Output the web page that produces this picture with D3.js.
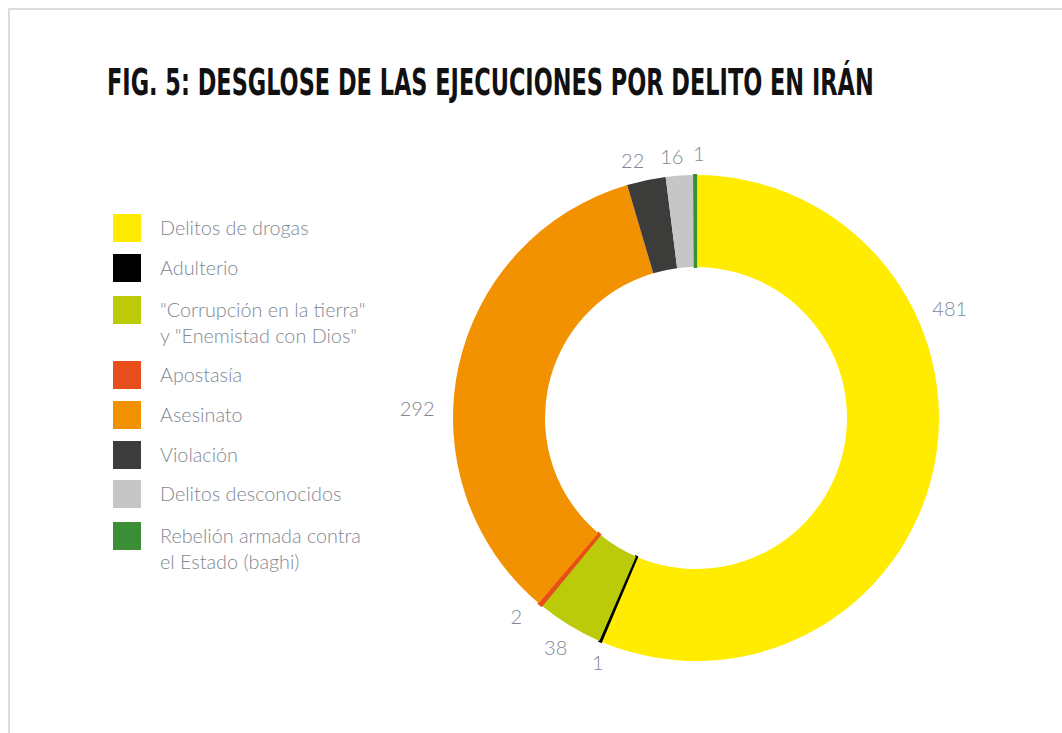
<!DOCTYPE html>
<html>
<head>
<meta charset="utf-8">
<script src="https://cdn.jsdelivr.net/npm/d3@7"></script>
<style>
  body { margin: 0; background: #fff; }
  svg { display: block; }
</style>
</head>
<body>
<svg id="chart" width="1062" height="733"></svg>
<script>
// Data
const categories = [
   'Delitos de drogas',
   'Adulterio',
   '"Corrupción en la tierra"\ny "Enemistad con Dios"',
   'Apostasía',
   'Asesinato',
   'Violación',
   'Delitos desconocidos',
   'Rebelión armada contra\nel Estado (baghi)'
];
const values = [481, 1, 38, 2, 292, 22, 16, 1];
const colors = ['#FFEC00', '#000000', '#BBCB0A', '#E84E1B', '#F39200', '#3C3C3B', '#C6C6C6', '#3A8E35'];

const title = 'FIG. 5: DESGLOSE DE LAS EJECUCIONES POR DELITO EN IRÁN';

// Layout
const svg = d3.select('#chart');
const CX = 696, CY = 418;
const R_OUT = 243, R_IN = 151;
const TEXT_GRAY = '#818894';

// label angle nudges (degrees) and radii, so labels sit like the original
const labelNudge = [-34.7, -1.4, 0, 2.2, -10, -2, -1.5, 0.8];
const labelRad = [276, 264, 269, 268, 279, 265, 262, 264];

// frame
svg.append('path')
   .attr('d', 'M9,733 V9 H1062')
   .attr('fill', 'none')
   .attr('stroke', '#dcdcdc')
   .attr('stroke-width', 2);

// title: condensed bold, stretched to the width / height of the original
const titleText = svg.append('text')
   .attr('x', 0)
   .attr('y', 0)
   .style('font-family', '"Liberation Sans Narrow", "DejaVu Sans Condensed", "Liberation Sans", sans-serif')
   .style('font-weight', 'bold')
   .style('font-size', '30px')
   .style('fill', '#111')
   .text(title);

const TITLE_W = 767;
const natural = titleText.node().getComputedTextLength();
titleText.attr('transform', 'translate(107,95) scale(' + (TITLE_W / natural) + ',1.25)');

// donut
const data = categories.map((c, i) => ({ name: c, value: values[i], color: colors[i] }));

const pie = d3.pie()
              .value(d => d.value)
              .sort(null);

const arc = d3.arc()
              .innerRadius(R_IN)
              .outerRadius(R_OUT);

const arcs = pie(data);

const g = svg.append('g')
             .attr('transform', 'translate(' + CX + ',' + CY + ')');

g.selectAll('path')
 .data(arcs)
 .enter()
 .append('path')
 .attr('d', arc)
 .attr('fill', d => d.data.color)
 .attr('stroke', d => d.data.value < 5 ? d.data.color : 'none')
 .attr('stroke-width', 2.2);

g.selectAll('text.value')
 .data(arcs)
 .enter()
 .append('text')
 .attr('class', 'value')
 .attr('transform', (d, i) => {
    const a = (d.startAngle + d.endAngle) / 2 + labelNudge[i] * Math.PI / 180;
    return 'translate(' + (Math.sin(a) * labelRad[i]) + ',' + (-Math.cos(a) * labelRad[i]) + ')';
 })
 .attr('text-anchor', 'middle')
 .attr('dy', '0.35em')
 .style('font-family', 'Lato, "Liberation Sans", sans-serif')
 .style('font-weight', 300)
 .style('font-size', '20px')
 .style('fill', TEXT_GRAY)
 .text(d => d.data.value);

// legend
const SQ = 28;
const LINE_H = 26;
const legendTop = [214, 254, 296, 361, 401, 441, 480, 522];

const legendItems = svg.selectAll('g.legend')
                       .data(data)
                       .enter()
                       .append('g')
                       .attr('class', 'legend')
                       .attr('transform', (d, i) => 'translate(113,' + legendTop[i] + ')');

legendItems.append('rect')
           .attr('width', SQ)
           .attr('height', SQ)
           .attr('fill', d => d.color);

legendItems.append('text')
           .attr('x', 47)
           .attr('y', 21)
           .style('font-family', 'Lato, "Liberation Sans", sans-serif')
           .style('font-weight', 300)
           .style('font-size', '19.8px')
           .style('fill', TEXT_GRAY)
           .selectAll('tspan')
           .data(d => d.name.split('\n'))
           .enter()
           .append('tspan')
           .attr('x', 47)
           .attr('dy', (d, i) => i === 0 ? 0 : LINE_H)
           .text(d => d);
</script>
</body>
</html>
